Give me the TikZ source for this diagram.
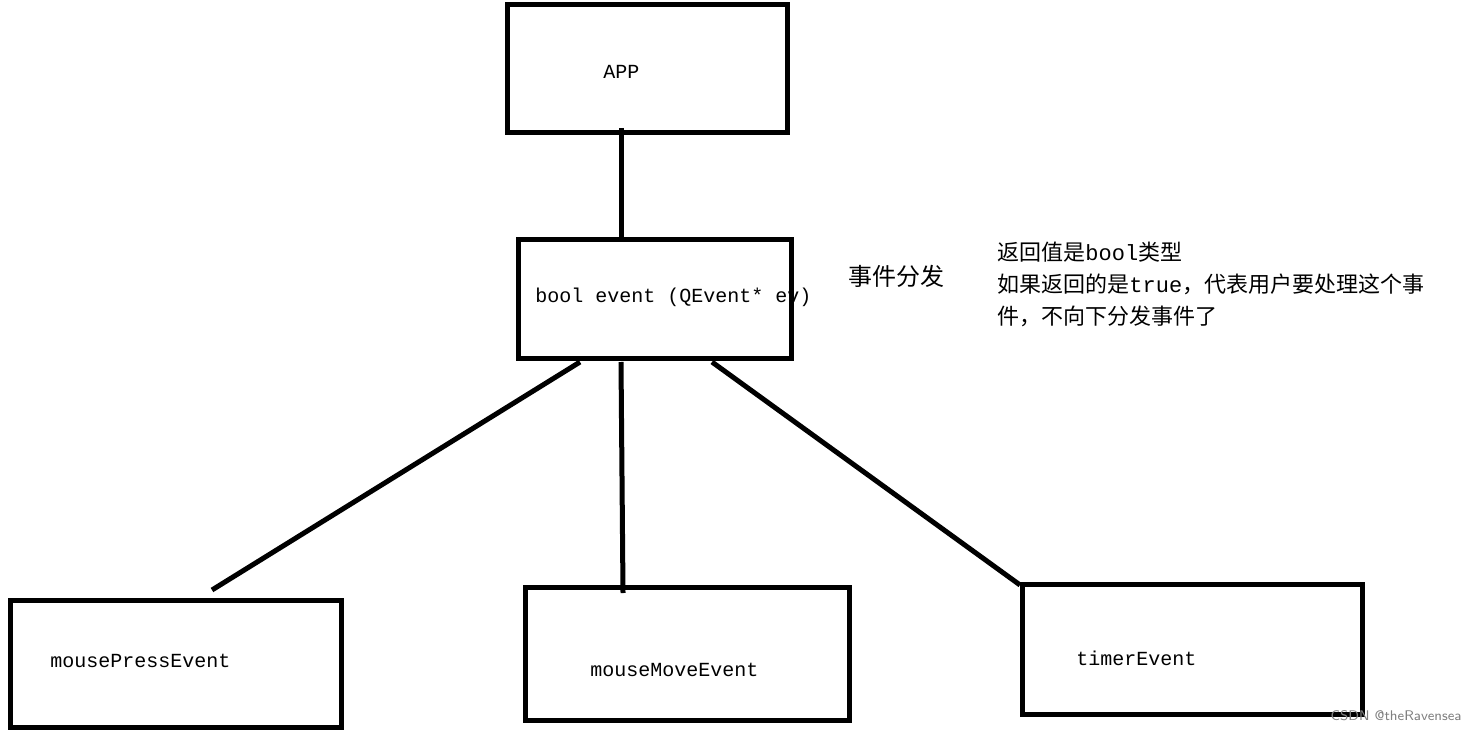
\documentclass[tikz,border=0pt]{standalone}
\usepackage{fontspec}
\setmonofont{Liberation Mono}
\newfontfamily\cjk{Noto Sans CJK SC}
\begin{document}
\begin{tikzpicture}[x=0.5pt,y=-0.5pt,
  box/.style={draw,line width=2.5pt},
  conn/.style={line width=2.5pt},
  lbl/.style={font=\ttfamily\fontsize{10}{12}\selectfont,inner sep=0pt},
  note/.style={font=\cjk\fontsize{11}{16}\selectfont,inner sep=0pt,align=left}]
\useasboundingbox (0,0) rectangle (1475,732);
\draw[box] (507,5) rectangle (787,133);
\draw[box] (518,240) rectangle (791,358);
\draw[box] (10,600) rectangle (341,727);
\draw[box] (525,587) rectangle (849,720);
\draw[box] (1022,584) rectangle (1362,714);
\coordinate (a1) at (621,128); \coordinate (a2) at (621,240);
\coordinate (e1) at (580,362); \coordinate (e2) at (621,362); \coordinate (e3) at (712,362);
\coordinate (m1) at (212,590); \coordinate (m2) at (623,593); \coordinate (m3) at (1020,585);
\draw[conn] (a1) -- (a2);
\draw[conn] (e1) -- (m1);
\draw[conn] (e2) -- (m2);
\draw[conn] (e3) -- (m3);
\node[lbl,anchor=west] (tapp) at (603,72) {APP};
\node[lbl,anchor=west] (tev) at (535,297) {bool event (QEvent* ev)};
\node[lbl,anchor=west] (tmp) at (50,661) {mousePressEvent};
\node[lbl,anchor=west] (tmm) at (590,670) {mouseMoveEvent};
\node[lbl,anchor=west] (ttm) at (1076,658) {timerEvent};
\node[note,anchor=west] (fx) at (848,276) {\fontsize{12}{14}\selectfont 事件分发};
\node[note,anchor=north west] (nt) at (997,242) {返回值是\texttt{bool}类型\\如果返回的是\texttt{true}，代表用户要处理这个事\\件，不向下分发事件了};
\node[anchor=east,text=gray,font=\sffamily\fontsize{7}{8}\selectfont,inner sep=0pt] (wm) at (1462,716) {CSDN @theRavensea};
\end{tikzpicture}
\end{document}
